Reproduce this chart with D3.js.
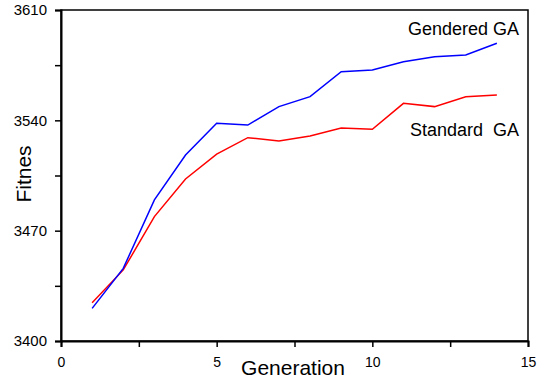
<!DOCTYPE html>
<html>
<head>
<meta charset="utf-8">
<script src="https://cdn.jsdelivr.net/npm/d3@7"></script>
<style>
  body { margin: 0; background: #fff; }
  text { font-family: "Liberation Sans", Arial, sans-serif; fill: #000; }
</style>
</head>
<body>
<svg id="graph" width="542" height="380"></svg>
<script>
// data
const generations = [1, 2, 3, 4, 5, 6, 7, 8, 9, 10, 11, 12, 13, 14]
const gendered = [3420.7, 3446.1, 3489.5, 3518, 3538.1, 3537, 3548.7, 3555, 3570.9, 3571.9, 3577.2, 3580.4, 3581.5, 3588.9]
const standard = [3424.3, 3445.1, 3478.9, 3502.8, 3518.6, 3529, 3526.9, 3530.1, 3535.1, 3534.3, 3550.8, 3548.7, 3555, 3556.1]
const yTicks = [3400, 3435, 3470, 3505, 3540, 3575, 3610]
const yLabels = [3400, 3470, 3540, 3610]
const xTicks = [0, 2.5, 5, 7.5, 10, 12.5, 15]
const xLabels = [0, 5, 10, 15]

const svg = d3.select('#graph')
const m = {left: 61, top: 10, right: 14, bottom: 39}
const w = +svg.attr('width') - m.left - m.right,
      h = +svg.attr('height') - m.top - m.bottom

const x = d3.scaleLinear().domain([0, 15]).range([0, w])
const y = d3.scaleLinear().domain([3400, 3610]).range([h, 0])

const g = svg.append('g').attr('transform', `translate(${m.left},${m.top})`)

// frame
g.append('rect')
  .attr('width', w).attr('height', h)
  .attr('fill', 'none').attr('stroke', '#000').attr('stroke-width', 1.5)

const yAxis = g.append('g')
  .call(d3.axisLeft(y).tickValues(yTicks).tickSize(6).tickPadding(8)
    .tickFormat(d => yLabels.includes(d) ? d : ''))
const xAxis = g.append('g').attr('transform', `translate(0,${h})`)
  .call(d3.axisBottom(x).tickValues(xTicks).tickSize(6).tickPadding(10)
    .tickFormat(d => xLabels.includes(d) ? d : ''))

;[yAxis, xAxis].forEach(a => {
  a.select('.domain').attr('stroke-width', 2)
  a.selectAll('.tick line').attr('stroke-width', 1.5)
  a.selectAll('text').style('font-family', '"Liberation Sans", Arial, sans-serif')
    .style('font-size', '15px').attr('fill', '#000')
})
xAxis.selectAll('text').style('font-size', '14px')

const line = d3.line().x((d, i) => x(generations[i])).y(d => y(d))

g.append('path').datum(standard)
  .attr('d', line).attr('fill', 'none')
  .attr('stroke', '#ff0000').attr('stroke-width', 1.5)
g.append('path').datum(gendered)
  .attr('d', line).attr('fill', 'none')
  .attr('stroke', '#0000ff').attr('stroke-width', 1.5)

// series labels
g.append('text').attr('x', 458).attr('y', 25)
  .attr('text-anchor', 'end').style('font-size', '18px')
  .text('Gendered GA')
g.append('text').attr('x', 458).attr('y', 126)
  .attr('text-anchor', 'end').style('font-size', '18px')
  .style('white-space', 'pre')
  .text('Standard  GA')

// axis titles
svg.append('text').attr('x', 293).attr('y', 375)
  .attr('text-anchor', 'middle').style('font-size', '21px')
  .text('Generation')
svg.append('text')
  .attr('transform', 'translate(31,174) rotate(-90)')
  .attr('text-anchor', 'middle').style('font-size', '21px')
  .text('Fitnes')
</script>
</body>
</html>
